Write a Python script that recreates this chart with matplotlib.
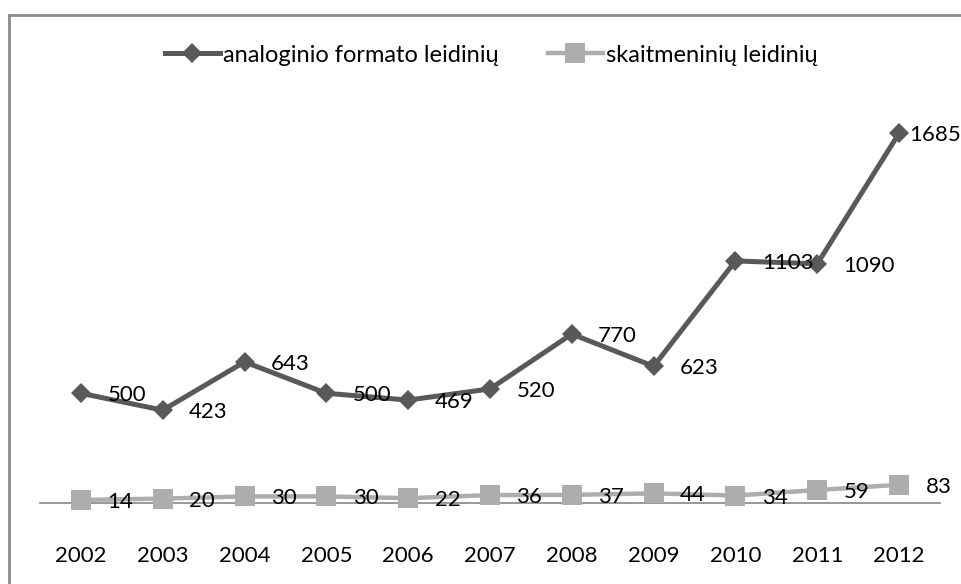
import matplotlib.pyplot as plt
from matplotlib.lines import Line2D

plt.rcParams['font.family'] = ['Lato', 'DejaVu Sans']

years = ['2002', '2003', '2004', '2005', '2006', '2007', '2008', '2009', '2010', '2011', '2012']
analog = [500, 423, 643, 500, 469, 520, 770, 623, 1103, 1090, 1685]
digital = [14, 20, 30, 30, 22, 36, 37, 44, 34, 59, 83]
series_names = ['analoginio formato leidinių', 'skaitmeninių leidinių']

dark = '#595959'
light = '#ADADAD'

W, H = 961, 584
fig = plt.figure(figsize=(W / 100, H / 100), dpi=100)
ax = fig.add_axes([40 / W, 81 / H, 900 / W, 395 / H])

x = list(range(len(years)))
ax.plot(x, analog, color=dark, lw=3.6, marker='D', ms=10, mew=0,
        label=series_names[0], clip_on=False, zorder=3)
ax.plot(x, digital, color=light, lw=3.2, marker='s', ms=14, mew=0,
        label=series_names[1], clip_on=False, zorder=3)

# data labels to the right of each point (last big one pulled in to fit)
for i, v in enumerate(analog):
    dx = 19 if i < len(analog) - 1 else 7
    ax.annotate(str(v), (i, v), xytext=(dx, -1.5), textcoords='offset points',
                ha='left', va='center', fontsize=16, color='black', zorder=4)
for i, v in enumerate(digital):
    ax.annotate(str(v), (i, v), xytext=(19, -1.5), textcoords='offset points',
                ha='left', va='center', fontsize=16, color='black', zorder=4)

ax.set_xlim(-0.5, len(years) - 0.5)
ax.set_ylim(0, 1800)
ax.set_xticks(x)
ax.set_xticklabels(years, fontsize=16)
ax.tick_params(axis='x', length=0, pad=31)
ax.set_yticks([])
for s in ['top', 'right', 'left']:
    ax.spines[s].set_visible(False)
ax.spines['bottom'].set_color('#868686')
ax.spines['bottom'].set_linewidth(1.2)

ax.legend(loc='center', bbox_to_anchor=(491.5 / W, 1 - 55 / H),
          bbox_transform=fig.transFigure, ncol=2, frameon=False,
          fontsize=17, handlelength=2.3, handletextpad=0.15,
          columnspacing=2.1)

# chart area border (only top and left visible in the crop)
bx, by = 8.5 / W, 1 - 15 / H
fig.add_artist(Line2D([bx, bx], [0, by], color='#8c8c8c', lw=2,
                      transform=fig.transFigure))
fig.add_artist(Line2D([bx, 1], [by, by], color='#8c8c8c', lw=2,
                      transform=fig.transFigure))

fig.savefig('out.png', dpi=100)
